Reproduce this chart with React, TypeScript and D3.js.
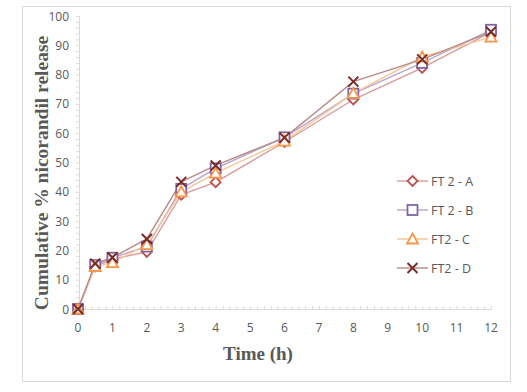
import React, { useEffect, useRef } from "react";
import * as d3 from "d3";

const times = [0, 0.5, 1, 2, 3, 4, 6, 8, 10, 12];
const ft2A = [0, 14.5, 17, 19.5, 39, 43.3, 57, 71.5, 82.3, 94.5];
const ft2B = [0, 15, 17.5, 21.3, 41, 48, 58.6, 73.5, 84, 95.3];
const ft2C = [0, 14.5, 15.8, 22, 40, 46.4, 57.3, 73.6, 86, 92.8];
const ft2D = [0, 15.5, 17.6, 23.9, 43.4, 49, 58.5, 77.6, 85.2, 94.6];
const seriesNames = ["FT 2 - A", "FT 2 - B", "FT2 - C", "FT2 - D"];
const xTicks = d3.range(0, 13);
const yTicks = d3.range(0, 101, 10);

const markerColors = ["#c0504d", "#8064a2", "#f79646", "#772c2a"];
const lineColors = ["#dc9a98", "#b7a6cb", "#f9c496", "#b98b89"];
const shapes = ["diamond", "square", "triangle", "cross"];

const App = () => {
  const ref = useRef<SVGSVGElement>(null);

  useEffect(() => {
    const svg = d3.select(ref.current);
    svg.selectAll("*").remove();

    const width = 527;
    const height = 392;
    const margin = { top: 16, right: 36, bottom: 83, left: 78 };

    svg
      .append("rect")
      .attr("x", 22.5)
      .attr("y", 6.5)
      .attr("width", 488)
      .attr("height", 375)
      .attr("fill", "#fff")
      .attr("stroke", "#d9d9d9");

    const x = d3
      .scaleLinear()
      .domain([0, 12])
      .range([margin.left, width - margin.right]);
    const y = d3
      .scaleLinear()
      .domain([0, 100])
      .range([height - margin.bottom, margin.top]);

    const tickColor = "#d9d9d9";
    const labelColor = "#595959";

    // y axis with minor ticks
    const yAxis = svg
      .append("g")
      .attr("transform", `translate(${x(0) + 1},0)`)
      .call(
        d3
          .axisLeft(y)
          .tickValues(d3.range(0, 101, 2))
          .tickSize(3)
          .tickFormat(() => "")
      );
    yAxis.selectAll("line").attr("stroke", tickColor);
    yAxis.select(".domain").attr("stroke", tickColor);

    svg
      .append("g")
      .selectAll("text")
      .data(yTicks)
      .enter()
      .append("text")
      .attr("x", x(0) - 9)
      .attr("y", (d) => y(d) + 4.5)
      .attr("text-anchor", "end")
      .attr("font-family", "'Open Sans', sans-serif")
      .attr("font-size", 12)
      .attr("fill", labelColor)
      .text((d) => d);

    // x axis with minor ticks
    const xAxis = svg
      .append("g")
      .attr("transform", `translate(0,${y(0)})`)
      .call(
        d3
          .axisTop(x)
          .tickValues(d3.range(0, 12.01, 0.2))
          .tickSize(3)
          .tickFormat(() => "")
      );
    xAxis.selectAll("line").attr("stroke", tickColor);
    xAxis.select(".domain").attr("stroke", tickColor);

    svg
      .append("g")
      .selectAll("text")
      .data(xTicks)
      .enter()
      .append("text")
      .attr("x", (d) => x(d))
      .attr("y", y(0) + 23)
      .attr("text-anchor", "middle")
      .attr("font-family", "'Open Sans', sans-serif")
      .attr("font-size", 12)
      .attr("fill", labelColor)
      .text((d) => d);

    // axis titles
    svg
      .append("text")
      .attr("x", 258)
      .attr("y", 360)
      .attr("text-anchor", "middle")
      .attr("font-family", "'Liberation Serif', serif")
      .attr("font-weight", "bold")
      .attr("font-size", 19)
      .attr("fill", labelColor)
      .text("Time (h)");

    svg
      .append("text")
      .attr("transform", `translate(48,173) rotate(-90)`)
      .attr("text-anchor", "middle")
      .attr("font-family", "'Liberation Serif', serif")
      .attr("font-weight", "bold")
      .attr("font-size", 19.5)
      .attr("fill", labelColor)
      .text("Cumulative % nicorandil release");

    const drawMarker = (g, shape, color, cx, cy) => {
      if (shape === "diamond") {
        g.append("path")
          .attr("d", `M${cx},${cy - 5}L${cx + 5},${cy}L${cx},${cy + 5}L${cx - 5},${cy}Z`)
          .attr("fill", "#fff")
          .attr("stroke", color)
          .attr("stroke-width", 1.8);
      } else if (shape === "square") {
        g.append("rect")
          .attr("x", cx - 5)
          .attr("y", cy - 5)
          .attr("width", 10)
          .attr("height", 10)
          .attr("fill", "#fff")
          .attr("stroke", color)
          .attr("stroke-width", 1.8);
      } else if (shape === "triangle") {
        g.append("path")
          .attr("d", `M${cx},${cy - 5.5}L${cx + 5.5},${cy + 4.5}L${cx - 5.5},${cy + 4.5}Z`)
          .attr("fill", "#fff")
          .attr("stroke", color)
          .attr("stroke-width", 1.8);
      } else {
        g.append("path")
          .attr("d", `M${cx - 5},${cy - 5}L${cx + 5},${cy + 5}M${cx + 5},${cy - 5}L${cx - 5},${cy + 5}`)
          .attr("fill", "none")
          .attr("stroke", color)
          .attr("stroke-width", 2);
      }
    };

    const allSeries = [ft2A, ft2B, ft2C, ft2D];
    const line = d3
      .line<number>()
      .x((d, i) => x(times[i]))
      .y((d) => y(d));

    allSeries.forEach((vals, si) => {
      svg
        .append("path")
        .datum(vals)
        .attr("fill", "none")
        .attr("stroke", lineColors[si])
        .attr("stroke-width", 1.4)
        .attr("d", line);
    });
    allSeries.forEach((vals, si) => {
      const g = svg.append("g");
      vals.forEach((v, i) => drawMarker(g, shapes[si], markerColors[si], x(times[i]), y(v)));
    });

    // legend
    const legend = svg.append("g");
    seriesNames.forEach((name, i) => {
      const ly = 181 + i * 29;
      legend
        .append("line")
        .attr("x1", 397)
        .attr("x2", 428)
        .attr("y1", ly)
        .attr("y2", ly)
        .attr("stroke", lineColors[i])
        .attr("stroke-width", 1.4);
      drawMarker(legend, shapes[i], markerColors[i], 412.5, ly);
      legend
        .append("text")
        .attr("x", 431)
        .attr("y", ly + 4.5)
        .attr("font-family", "'Open Sans', sans-serif")
        .attr("font-size", 12.5)
        .attr("fill", labelColor)
        .text(name);
    });
  }, []);

  return (
    <svg
      ref={ref}
      width={527}
      height={392}
      style={{ position: "absolute", left: 0, top: 0 }}
    />
  );
};

export default App;
